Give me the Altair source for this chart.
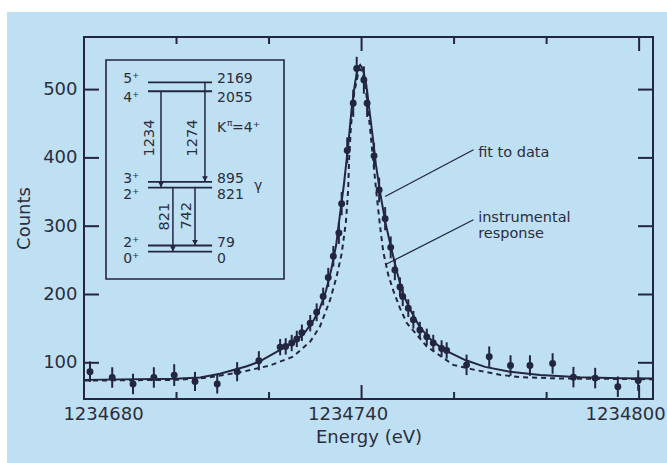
import altair as alt
import pandas as pd

# ---- measured spectrum (energy in eV, counts, 1-sigma error) ----
energy = [1234681.3, 1234686.1, 1234690.6, 1234695.1, 1234699.5, 1234704.0, 1234708.8,
          1234713.1, 1234717.8,
          1234722.4, 1234723.6, 1234724.9, 1234726.0, 1234727.1, 1234728.9, 1234730.3,
          1234731.7, 1234732.8, 1234733.9, 1234735.1, 1234735.7,
          1234736.9, 1234738.2, 1234738.95, 1234740.5, 1234741.2, 1234742.7, 1234743.8,
          1234745.1, 1234746.3, 1234747.2, 1234748.3, 1234748.9, 1234750.1, 1234751.2,
          1234752.6, 1234754.1, 1234755.5, 1234757.3, 1234758.4,
          1234762.7, 1234767.6, 1234772.2, 1234776.4, 1234781.3, 1234785.8, 1234790.5,
          1234795.4, 1234799.8]
counts = [87, 78.5, 69, 78.5, 82, 72.7, 69, 87, 103,
          123, 124, 129, 135, 144, 158, 174, 197, 225, 256, 290, 333,
          411, 480, 531, 514, 480, 403, 353,
          311, 269, 236, 211, 197, 180, 163, 148, 138, 129, 121, 118,
          97, 109, 96, 96, 99, 79, 77.6, 65, 74]
errors = [15, 15, 15, 15, 16, 14, 14, 14, 14,
          12, 12, 12, 12, 12, 12, 13, 13, 14, 15, 16, 17,
          19, 20, 17, 20, 20, 19, 18,
          17, 16, 15, 14, 14, 13, 13, 12, 12, 12, 12, 12,
          15, 15, 15, 15, 15, 15, 15, 15, 15]

# ---- fitted line shape (solid) ----
fit_energy = [1234680.0, 1234699.7, 1234705.1, 1234709.4, 1234715.2, 1234718.0, 1234722.4,
              1234725.6, 1234727.8, 1234729.7, 1234731.0, 1234732.3, 1234733.4, 1234734.5,
              1234735.3, 1234736.2, 1234737.1, 1234737.9, 1234738.6, 1234739.2, 1234739.7,
              1234740.3, 1234741.0, 1234741.6, 1234742.3, 1234743.1, 1234744.0, 1234745.1,
              1234746.4, 1234747.7, 1234749.0, 1234750.5, 1234752.6, 1234754.8, 1234757.0,
              1234759.1, 1234762.4, 1234766.7, 1234772.1, 1234778.6, 1234787.2, 1234795.9,
              1234803.0]
fit_counts = [75, 76.5, 78.5, 84, 95, 102, 119,
              131, 145, 163, 180, 205, 235, 272,
              315, 362, 418, 475, 510, 532, 536,
              530, 508, 475, 437, 390, 350, 307,
              268, 232, 200, 178, 152, 135, 123,
              115, 104, 94, 87, 82, 79, 77.5,
              77]

# ---- instrumental response (dashed) ----
resp_energy = [1234680.0, 1234700.0, 1234706.5, 1234713.7, 1234720.2, 1234725.2, 1234728.9,
               1234731.0, 1234733.2, 1234734.6, 1234735.7, 1234736.6, 1234737.1, 1234737.3,
               1234737.7, 1234738.4, 1234739.3, 1234739.7, 1234740.1, 1234741.0, 1234741.8,
               1234742.5, 1234743.3, 1234744.0, 1234744.7, 1234745.8, 1234746.9, 1234748.3,
               1234749.8, 1234754.1, 1234759.8, 1234764.2, 1234769.9, 1234774.3, 1234782.9,
               1234803.0]
resp_counts = [74, 75, 78, 86, 96, 109, 131,
               153, 192, 226, 260, 305, 353, 397,
               446, 495, 525, 530, 527, 495, 446,
               397, 343, 300, 262, 228, 205, 180,
               158, 124, 97, 90, 82.5, 79, 77,
               76]

# ---- axes ----
x_domain = [1234680, 1234803]
y_domain = [47, 577]
x_labels = [1234680, 1234740, 1234800]
x_minor = [1234700, 1234720, 1234760, 1234780]
y_labels = [100, 200, 300, 400, 500]

# ---- level scheme of the inset (keV) ----
level_energy = [0, 79, 821, 895, 2055, 2169]
level_spin = ["0⁺", "2⁺", "2⁺", "3⁺", "4⁺", "5⁺"]
level_upper = [False, True, False, True, False, True]
gamma_from = [2055, 2169, 821, 821]
gamma_to = [821, 895, 0, 79]

W, H = 569, 362
INK = "#23263f"
TEXT = "#2a2d3e"
BG = "#bfe0f2"
FONT = "DejaVu Sans"

x_scale = alt.Scale(domain=x_domain, nice=False, zero=False)
y_scale = alt.Scale(domain=y_domain, nice=False, zero=False)

x_axis = alt.Axis(
    values=x_labels, format="d", ticks=False, domain=False, grid=False,
    labelFontSize=18, labelFont=FONT, labelColor=TEXT, labelPadding=6,
    labelFlush=False,
    labelOffset={"condition": {"test": "datum.value < 1234700", "value": 19}, "value": -14},
    title="Energy (eV)", titleFontSize=18, titleFont=FONT, titleColor=TEXT,
    titleFontWeight="normal", titlePadding=5,
)
y_axis = alt.Axis(
    values=y_labels, ticks=False, domain=False, grid=False,
    labelFontSize=18, labelFont=FONT, labelColor=TEXT, labelPadding=7,
    title="Counts", titleFontSize=18, titleFont=FONT, titleColor=TEXT,
    titleFontWeight="normal", titlePadding=9,
)


def X(field):
    return alt.X(field, type="quantitative", scale=x_scale, axis=x_axis)


def Y(field):
    return alt.Y(field, type="quantitative", scale=y_scale, axis=y_axis)


spec = pd.DataFrame({"E": energy, "C": counts, "err": errors})
spec["lo"] = spec["C"] - spec["err"]
spec["hi"] = spec["C"] + spec["err"]
fit = pd.DataFrame({"E": fit_energy, "C": fit_counts})
resp = pd.DataFrame({"E": resp_energy, "C": resp_counts})

# paper edge of the page
dummy = pd.DataFrame({"a": [0]})
edge_top = alt.Chart(dummy).mark_rect(color="white").encode(
    x=alt.value(-84), x2=alt.value(W + 14), y=alt.value(-37), y2=alt.value(-25))
edge_left = alt.Chart(dummy).mark_rect(color="white").encode(
    x=alt.value(-84), x2=alt.value(-77), y=alt.value(-37), y2=alt.value(H + 64))

bars = alt.Chart(spec).mark_rule(color=INK, strokeWidth=2).encode(
    x=X("E"), y=Y("lo"), y2="hi")
dots = alt.Chart(spec).mark_circle(color=INK, size=48, opacity=1).encode(
    x=X("E"), y=Y("C"))
fit_line = alt.Chart(fit).mark_line(color=INK, strokeWidth=2).encode(
    x=X("E"), y=Y("C"), order="E")
resp_line = alt.Chart(resp).mark_line(color=INK, strokeWidth=2, strokeDash=[5, 4]).encode(
    x=X("E"), y=Y("C"), order="E")

# inward ticks on all four sides
xt_major = pd.DataFrame({"v": x_labels})
xt_minor = pd.DataFrame({"v": x_minor})
yt = pd.DataFrame({"v": y_labels})
tick_layers = []
for df, ln in ((xt_major, 14), (xt_minor, 7)):
    tick_layers.append(alt.Chart(df).mark_rule(color=INK, strokeWidth=2).encode(
        x=X("v"), y=alt.value(H), y2=alt.value(H - ln)))
    tick_layers.append(alt.Chart(df).mark_rule(color=INK, strokeWidth=2).encode(
        x=X("v"), y=alt.value(0), y2=alt.value(ln)))
tick_layers.append(alt.Chart(yt).mark_rule(color=INK, strokeWidth=2).encode(
    y=Y("v"), x=alt.value(0), x2=alt.value(15)))
tick_layers.append(alt.Chart(yt).mark_rule(color=INK, strokeWidth=2).encode(
    y=Y("v"), x=alt.value(W - 15), x2=alt.value(W)))

# callouts
notes = pd.DataFrame({
    "E": [1234765.2, 1234765.2, 1234765.2],
    "C": [401.6, 306, 283],
    "t": ["fit to data", "instrumental", "response"],
})
note_text = alt.Chart(notes).mark_text(
    align="left", baseline="alphabetic", fontSize=14.5, font=FONT, color=TEXT).encode(
    x=X("E"), y=Y("C"), text="t")
leaders = pd.DataFrame({
    "E1": [1234764.2, 1234764.2], "C1": [411.9, 309.4],
    "E2": [1234745.1, 1234745.1], "C2": [343.5, 243.5],
})
leader_lines = alt.Chart(leaders).mark_rule(color=INK, strokeWidth=1.3).encode(
    x=X("E1"), y=Y("C1"), x2="E2", y2="C2")

main = alt.layer(edge_top, edge_left, bars, dots, fit_line, resp_line,
                 *tick_layers, leader_lines, note_text)

# ---- inset: level scheme in its own coordinates ----
ix = alt.Scale(domain=[0, 100], range=[22, 200], nice=False, zero=False)
iy = alt.Scale(domain=[-350, 2455], range=[242, 23], nice=False, zero=False)


def IX(field):
    return alt.X(field, type="quantitative", scale=ix, axis=None)


def IY(field):
    return alt.Y(field, type="quantitative", scale=iy, axis=None)


frame = pd.DataFrame({"x": [0], "x2": [100], "y": [-350], "y2": [2455]})
inset_box = alt.Chart(frame).mark_rect(fill=BG, stroke=INK, strokeWidth=1.6).encode(
    x=IX("x"), x2="x2", y=IY("y"), y2="y2")

levels = pd.DataFrame({"e": level_energy, "spin": level_spin, "upper": level_upper})
levels["x1"] = 23.6
levels["x2"] = 59.6
levels["xl"] = 18.8
levels["xr"] = 62.4
levels["lab"] = levels["e"].astype(str)
level_lines = alt.Chart(levels).mark_rule(color=INK, strokeWidth=1.8).encode(
    x=IX("x1"), x2="x2", y=IY("e"))

upper = levels[levels["upper"]]
lower = levels[~levels["upper"]]
level_text = []
for df, dy in ((upper, -3), (lower, 7)):
    level_text.append(alt.Chart(df).mark_text(
        align="right", baseline="middle", dy=dy, fontSize=14, font=FONT, color=TEXT).encode(
        x=IX("xl"), y=IY("e"), text="spin"))
    level_text.append(alt.Chart(df).mark_text(
        align="left", baseline="middle", dy=dy, fontSize=14, font=FONT, color=TEXT).encode(
        x=IX("xr"), y=IY("e"), text="lab"))

gam = pd.DataFrame({"a": gamma_from, "b": gamma_to})
gam["lab"] = (gam["a"] - gam["b"]).astype(str)
gam["x"] = [30.9, 55.6, 37.6, 50.0]
gam["xl"] = [24.7, 48.6, 33.4, 45.5]
gam["yl"] = [1456, 1456, 448, 460]
gam_lines = alt.Chart(gam).mark_rule(color=INK, strokeWidth=1.5).encode(
    x=IX("x"), y=IY("a"), y2="b")
gam_heads = alt.Chart(gam).mark_point(
    shape="triangle-down", filled=True, size=34, color=INK, opacity=1, yOffset=-3).encode(
    x=IX("x"), y=IY("b"))
gam_text = alt.Chart(gam).mark_text(
    angle=270, align="center", baseline="middle", fontSize=14.5, font=FONT, color=TEXT).encode(
    x=IX("xl"), y=IY("yl"), text="lab")

band = pd.DataFrame({"x": [62.4], "y": [1584], "xg": [85.5], "yg": [840]})
k_text = alt.Chart(band).mark_text(
    align="left", baseline="middle", fontSize=14, font=FONT, color=TEXT).encode(
    x=IX("x"), y=IY("y"), text=alt.value("K"))
pi_text = alt.Chart(band).mark_text(
    align="left", baseline="middle", dx=10, dy=-5, fontSize=9, font=FONT, color=TEXT).encode(
    x=IX("x"), y=IY("y"), text=alt.value("π"))
eq_text = alt.Chart(band).mark_text(
    align="left", baseline="middle", dx=15, fontSize=14, font=FONT, color=TEXT).encode(
    x=IX("x"), y=IY("y"), text=alt.value("=4⁺"))
g_text = alt.Chart(band).mark_text(
    align="center", baseline="middle", fontSize=14, font=FONT, color=TEXT).encode(
    x=IX("xg"), y=IY("yg"), text=alt.value("γ"))

inset = alt.layer(inset_box, level_lines, *level_text, gam_lines, gam_heads, gam_text,
                  k_text, pi_text, eq_text, g_text)

chart = alt.layer(main, inset).resolve_scale(
    x="independent", y="independent"
).properties(
    width=W, height=H,
    background=BG,
    padding={"left": 84, "top": 37, "right": 14, "bottom": 64},
    autosize=alt.AutoSizeParams(type="none"),
).configure_view(stroke=INK, strokeWidth=2)

chart.save("out.html", embed_options={"renderer": "svg", "actions": False})
